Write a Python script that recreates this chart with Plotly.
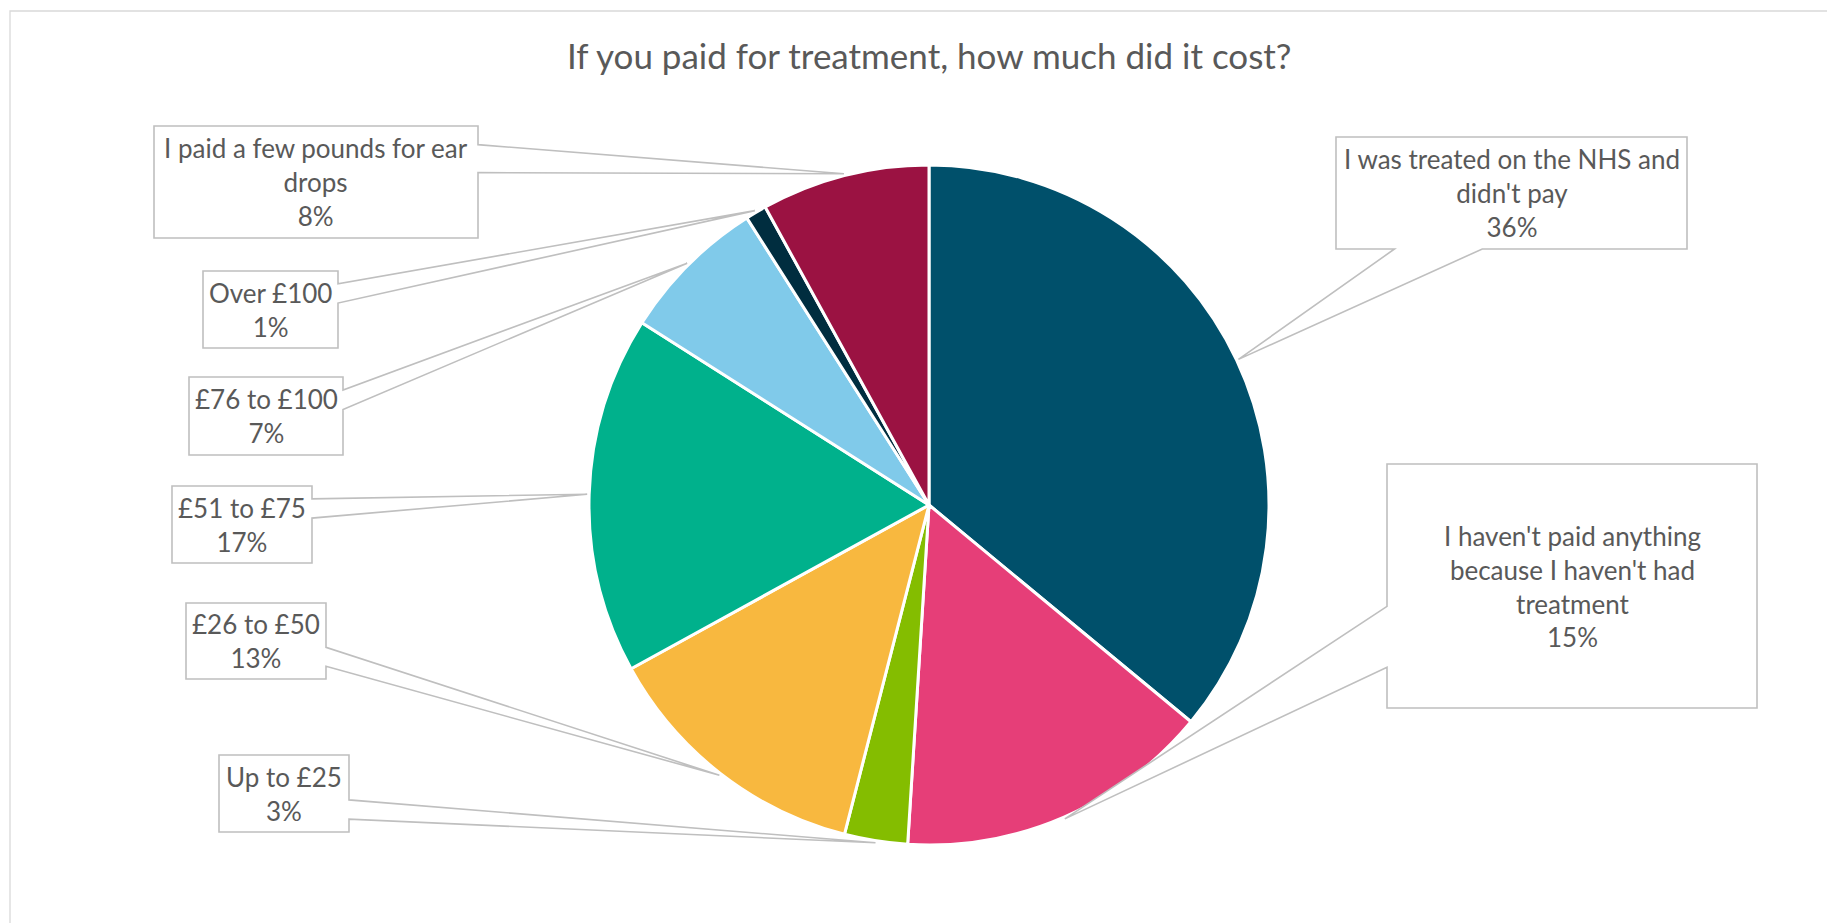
import math
import plotly.graph_objects as go

# ---- data -------------------------------------------------------------
categories = [
    "I was treated on the NHS and didn't pay",
    "I haven't paid anything because I haven't had treatment",
    "Up to £25",
    "£26 to £50",
    "£51 to £75",
    "£76 to £100",
    "Over £100",
    "I paid a few pounds for ear drops",
]
values = [36, 15, 3, 13, 17, 7, 1, 8]
colors = ["#00506B", "#E63E78", "#84BD00", "#F8B83F",
          "#00B18C", "#80CAEA", "#002D3F", "#9B1242"]
title_text = "If you paid for treatment, how much did it cost?"

# line breaks used inside the callout boxes
wrapped = {
    "I was treated on the NHS and didn't pay": ["I was treated on the NHS and", "didn't pay"],
    "I haven't paid anything because I haven't had treatment":
        ["I haven't paid anything", "because I haven't had", "treatment"],
    "I paid a few pounds for ear drops": ["I paid a few pounds for ear", "drops"],
}

# ---- layout (pixels, y downward) --------------------------------------
W, H = 1827, 923
CX, CY, R = 929, 505, 340
boxes = {
    "I was treated on the NHS and didn't pay": (1336, 137, 1687, 249),
    "I haven't paid anything because I haven't had treatment": (1387, 464, 1757, 708),
    "Up to £25": (219, 755, 349, 832),
    "£26 to £50": (186, 603, 326, 679),
    "£51 to £75": (172, 486, 312, 563),
    "£76 to £100": (189, 377, 343, 455),
    "Over £100": (203, 271, 338, 348),
    "I paid a few pounds for ear drops": (154, 126, 478, 238),
}
TEXT_COLOR = "#595959"
BOX_LINE = "#BFBFBF"
FONT = "Lato"


def px(x):
    return x / W


def py(y):
    return 1 - y / H


def callout_path(box, tip):
    """Rectangle with a wedge pointing at tip (Office wedge-callout rules)."""
    x0, y0, x1, y1 = box
    w, h = x1 - x0, y1 - y0
    cx, cy = (x0 + x1) / 2, (y0 + y1) / 2
    tx, ty = tip
    dx, dy = tx - cx, ty - cy
    bx = (x0 + w * 7 / 12, x0 + w * 10 / 12) if dx > 0 else (x0 + w * 2 / 12, x0 + w * 5 / 12)
    by = (y0 + h * 7 / 12, y0 + h * 10 / 12) if dy > 0 else (y0 + h * 2 / 12, y0 + h * 5 / 12)
    vertical = abs(dy) - abs(dx * h / w) > 0
    pts = [(x0, y0)]
    if vertical and dy < 0:
        pts += [(bx[0], y0), tip, (bx[1], y0)]
    pts.append((x1, y0))
    if not vertical and dx > 0:
        pts += [(x1, by[0]), tip, (x1, by[1])]
    pts.append((x1, y1))
    if vertical and dy > 0:
        pts += [(bx[1], y1), tip, (bx[0], y1)]
    pts.append((x0, y1))
    if not vertical and dx < 0:
        pts += [(x0, by[1]), tip, (x0, by[0])]
    return "M " + " L ".join(f"{px(x):.5f},{py(y):.5f}" for x, y in pts) + " Z"


fig = go.Figure()
fig.add_trace(go.Pie(
    labels=categories,
    values=values,
    sort=False,
    direction="clockwise",
    rotation=0,
    textinfo="none",
    marker=dict(colors=colors, line=dict(color="white", width=3)),
    domain=dict(x=[px(CX - R), px(CX + R)], y=[py(CY + R), py(CY - R)]),
    showlegend=False,
))

shapes = [
    # chart frame
    dict(type="rect", xref="paper", yref="paper",
         x0=px(10), y0=py(11), x1=px(W + 20), y1=py(H + 20),
         line=dict(color="#D9D9D9", width=1.3), fillcolor="rgba(0,0,0,0)", layer="below"),
]
annotations = [
    dict(text=title_text, x=px(CX), y=py(55), xref="paper", yref="paper",
         xanchor="center", yanchor="middle", showarrow=False,
         font=dict(family=FONT, size=35, color=TEXT_COLOR)),
]

total = sum(values)
cum = 0
for name, v in zip(categories, values):
    mid = (cum + v / 2) / total * 2 * math.pi
    cum += v
    tip = (CX + (R + 2) * math.sin(mid), CY - (R + 2) * math.cos(mid))
    box = boxes[name]
    shapes.append(dict(type="path", xref="paper", yref="paper",
                       path=callout_path(box, tip),
                       line=dict(color=BOX_LINE, width=1.6), fillcolor="white",
                       layer="above"))
    lines = wrapped.get(name, [name]) + [f"{v}%"]
    annotations.append(dict(
        text="<br>".join(lines),
        x=px((box[0] + box[2]) / 2), y=py((box[1] + box[3]) / 2),
        xref="paper", yref="paper", xanchor="center", yanchor="middle",
        showarrow=False, align="center",
        font=dict(family=FONT, size=26, color=TEXT_COLOR)))

fig.update_layout(
    width=W, height=H,
    margin=dict(l=0, r=0, t=0, b=0),
    paper_bgcolor="white",
    plot_bgcolor="white",
    shapes=shapes,
    annotations=annotations,
)

fig.write_html("out.html")
